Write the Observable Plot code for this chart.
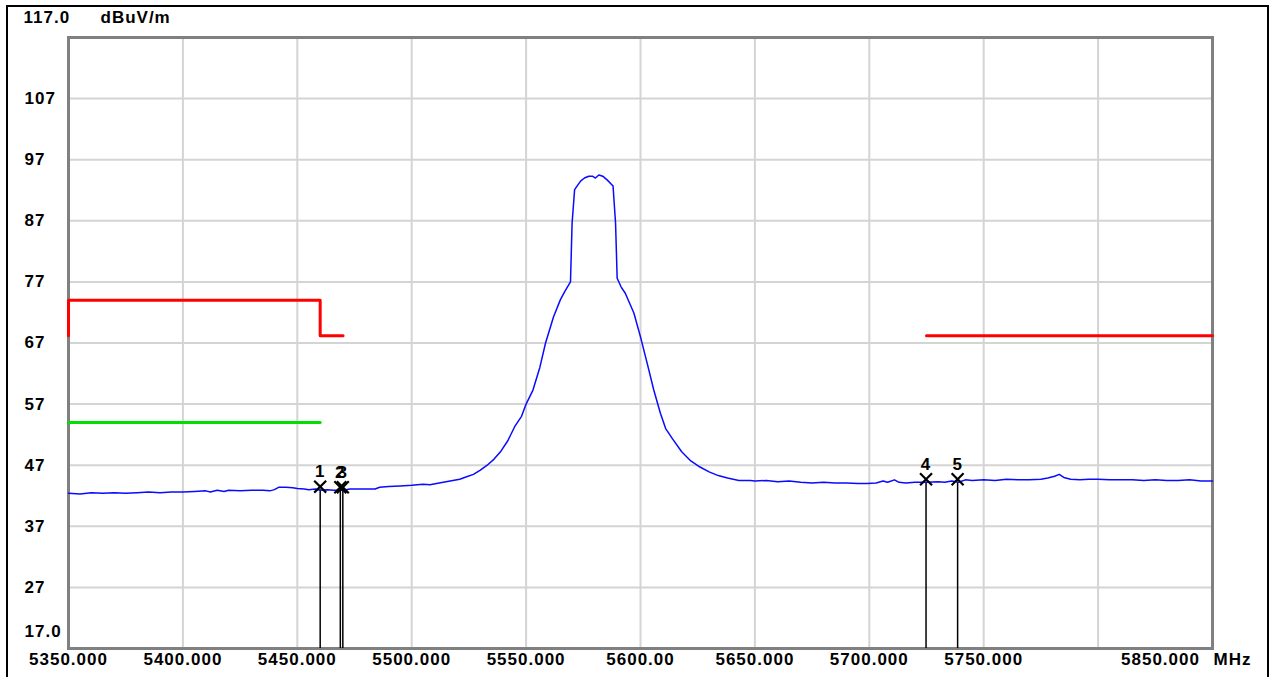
<!DOCTYPE html>
<html>
<head>
<meta charset="utf-8">
<script src="https://cdn.jsdelivr.net/npm/d3@7"></script>
<script src="https://cdn.jsdelivr.net/npm/@observablehq/plot@0.6"></script>
<style>
  html, body { margin: 0; padding: 0; background: #fff; }
  #wrap { position: relative; width: 1273px; height: 677px; overflow: hidden; }
  #border { position: absolute; left: 6px; top: 5px; width: 1259px; height: 720px;
            border: 2px solid #000; border-bottom: none; pointer-events: none; }
</style>
</head>
<body>
<div id="wrap"><div id="border"></div></div>
<script>
// ---- data ----
const traceFreq = [5350,5355,5360,5365,5370,5375,5380,5385,5390,5395,5400,5405,5410,5412,5415,5418,5420,5425,5430,5435,5438,5440,5442,5445,5448,5450,5453,5455,5458,5460,5463,5466,5469,5470,5473,5476,5480,5484,5486,5490,5495,5500,5505,5508,5512,5515,5518,5521,5524,5527,5530,5533,5536,5539,5542,5545,5548,5550,5553,5556,5558.5,5562,5565,5567,5569.4,5570.1,5571.2,5573.8,5575.5,5577.4,5579,5580.3,5581.8,5583.5,5585.4,5588,5589.1,5589.8,5591.5,5593.4,5597.1,5600,5602.9,5605.8,5608.7,5611,5614,5618,5622,5626,5630,5634,5638,5643,5648,5650,5655,5660,5665,5670,5675,5680,5685,5690,5695,5699,5703,5706,5708,5711,5713,5716,5720,5725,5730,5733,5736,5739,5742,5745,5750,5755,5760,5765,5770,5775,5778,5781,5783,5785,5788,5792,5796,5800,5805,5810,5815,5820,5825,5830,5835,5840,5845,5850];
const traceLevel = [42.4,42.3,42.5,42.4,42.5,42.4,42.5,42.6,42.5,42.6,42.6,42.7,42.8,42.6,42.9,42.7,42.9,42.8,42.9,42.9,42.8,43.0,43.4,43.4,43.3,43.2,43.1,43.0,43.1,42.9,43.0,42.9,42.9,42.9,43.1,43.1,43.1,43.1,43.4,43.5,43.6,43.7,43.9,43.8,44.1,44.3,44.5,44.7,45.1,45.5,46.2,47.0,48.0,49.3,51.0,53.3,55.0,57.0,59.3,63.0,67.0,71.3,74.1,75.5,77.0,86.6,92.1,93.5,94.0,94.3,94.3,94.0,94.5,94.3,93.7,92.7,86.6,77.6,76.2,75.1,71.9,68.0,63.7,59.3,55.5,53.0,51.3,49.2,47.7,46.7,45.9,45.3,44.9,44.5,44.5,44.4,44.5,44.3,44.4,44.2,44.1,44.2,44.1,44.1,44.0,44.0,44.1,44.4,44.2,44.6,44.2,44.1,44.2,44.2,44.3,44.2,44.4,44.2,44.6,44.5,44.6,44.5,44.7,44.6,44.6,44.7,44.9,45.2,45.5,45.0,44.7,44.6,44.7,44.7,44.6,44.6,44.6,44.5,44.6,44.5,44.5,44.6,44.4,44.4];

const limitPeakFreq  = [5350, 5350, 5460, 5460, 5470];
const limitPeakLevel = [68.2, 74.0, 74.0, 68.2, 68.2];
const limitRightFreq  = [5725, 5850];
const limitRightLevel = [68.2, 68.2];
const limitAvgFreq  = [5350, 5460];
const limitAvgLevel = [54.0, 54.0];

const markerIds   = ["1", "2", "3", "4", "5"];
const markerFreq  = [5460.0, 5468.8, 5469.9, 5724.8, 5738.6];
const markerLevel = [43.0, 42.9, 42.9, 44.2, 44.2];

const xTicks = [5350, 5400, 5450, 5500, 5550, 5600, 5650, 5700, 5750, 5800, 5850];
const xTickLabels = ["5350.000", "5400.000", "5450.000", "5500.000", "5550.000", "5600.00", "5650.000", "5700.000", "5750.000", "", "5850.000"];
const yTicks = [17, 27, 37, 47, 57, 67, 77, 87, 97, 107, 117];
const yTickLabels = ["17.0", "27", "37", "47", "57", "67", "77", "87", "97", "107", "117.0"];
const yUnit = "dBuV/m";
const xUnit = "MHz";

// ---- tables ----
const trace = traceFreq.map((f, i) => ({f, v: traceLevel[i]}));
const peak = limitPeakFreq.map((f, i) => ({f, v: limitPeakLevel[i]}));
const right = limitRightFreq.map((f, i) => ({f, v: limitRightLevel[i]}));
const avg = limitAvgFreq.map((f, i) => ({f, v: limitAvgLevel[i]}));
const markers = markerIds.map((id, i) => ({id, f: markerFreq[i], v: markerLevel[i]}));
const xLab = xTicks.map((t, i) => ({t, s: xTickLabels[i]})).filter(d => d.s && d.t !== 5850);
const xLast = xTicks.map((t, i) => ({t, s: xTickLabels[i]})).filter(d => d.t === 5850);
const yMid = yTicks.map((t, i) => ({t, s: yTickLabels[i]})).filter(d => d.t !== 17 && d.t !== 117);
const yBot = yTicks.map((t, i) => ({t, s: yTickLabels[i]})).filter(d => d.t === 17);
const yTop = yTicks.map((t, i) => ({t, s: yTickLabels[i]})).filter(d => d.t === 117);

const font = {fontSize: 17, fontWeight: "bold", fill: "#000"};

const chart = Plot.plot({
  width: 1273,
  height: 677,
  marginLeft: 68,
  marginRight: 61,
  marginTop: 37,
  marginBottom: 29,
  style: {fontFamily: "'Liberation Sans', Arial, sans-serif", letterSpacing: "1px", background: "transparent", overflow: "visible"},
  x: {domain: [5350, 5850], axis: null},
  y: {domain: [17, 117], axis: null},
  marks: [
    Plot.gridX(xTicks, {stroke: "#d4d4d4", strokeOpacity: 1, strokeWidth: 2}),
    Plot.gridY(yTicks, {stroke: "#d4d4d4", strokeOpacity: 1, strokeWidth: 2}),
    Plot.frame({stroke: "#808080", strokeWidth: 3}),
    Plot.line(avg, {x: "f", y: "v", stroke: "#00e000", strokeWidth: 3}),
    Plot.line(peak, {x: "f", y: "v", stroke: "#ff0000", strokeWidth: 3}),
    Plot.line(right, {x: "f", y: "v", stroke: "#ff0000", strokeWidth: 3}),
    Plot.ruleX(markers, {x: "f", y1: 17, y2: "v", stroke: "#000", strokeWidth: 1.5}),
    Plot.line(trace, {x: "f", y: "v", stroke: "#0a0aff", strokeWidth: 1.5}),
    Plot.dot(markers, {x: "f", y: "v", symbol: "times", r: 5.5, stroke: "#000", strokeWidth: 2.2, dy: -3}),
    Plot.text(markers, {x: "f", y: "v", text: "id", dy: -18, ...font}),
    // x tick labels
    Plot.text(xLab, {x: "t", text: "s", frameAnchor: "bottom", dy: 16, ...font}),
    Plot.text(xLast, {x: "t", text: "s", frameAnchor: "bottom", dy: 16, dx: -52, ...font}),
    Plot.text([xUnit], {x: xTicks[xTicks.length - 1], text: d => d, frameAnchor: "bottom", dy: 16, dx: 1, textAnchor: "start", ...font}),
    // y tick labels
    Plot.text(yMid, {y: "t", text: "s", frameAnchor: "left", dx: -44, textAnchor: "start", ...font}),
    Plot.text(yBot, {y: "t", text: "s", frameAnchor: "left", dx: -44, dy: -17, textAnchor: "start", ...font}),
    Plot.text(yTop, {y: "t", text: "s", frameAnchor: "left", dx: -45, dy: -20, textAnchor: "start", ...font}),
    Plot.text([yUnit], {y: yTicks[yTicks.length - 1], text: d => d, frameAnchor: "left", dx: 32, dy: -20, textAnchor: "start", ...font})
  ]
});
document.getElementById("wrap").prepend(chart);
</script>
</body>
</html>
